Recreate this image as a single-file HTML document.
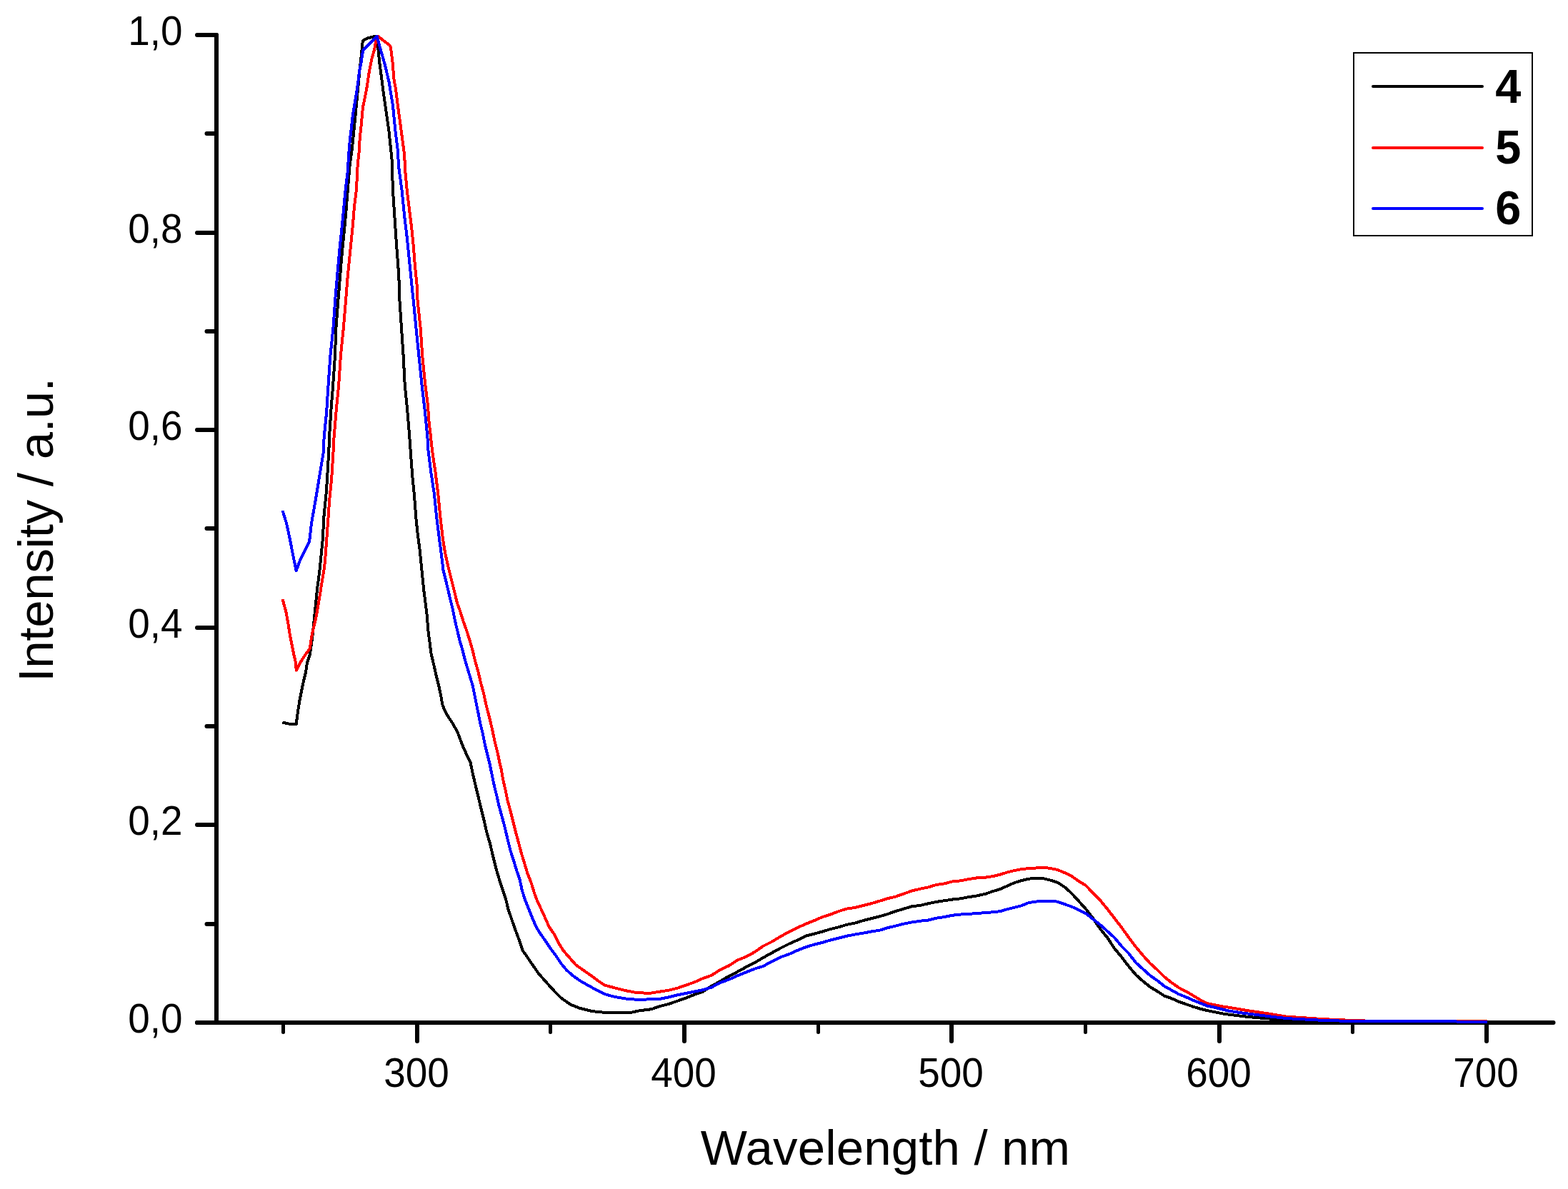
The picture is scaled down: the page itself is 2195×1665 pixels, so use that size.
<!DOCTYPE html>
<html><head><meta charset="utf-8"><title>Intensity vs Wavelength</title>
<style>
html,body{margin:0;padding:0;background:#fff;}
body{width:2195px;height:1665px;overflow:hidden;}
svg{display:block;}
.tk{font-family:"Liberation Sans",Arial,sans-serif;font-size:57.8px;fill:#000;}
.tt{font-family:"Liberation Sans",Arial,sans-serif;font-size:69px;fill:#000;}
.lg{font-family:"Liberation Sans",Arial,sans-serif;font-size:66.5px;font-weight:bold;fill:#000;}
</style></head>
<body>
<svg width="2195" height="1665" viewBox="0 0 2195 1665">
<rect width="2195" height="1665" fill="#fff"/>
<g stroke="#000" stroke-linecap="round" fill="none"><line x1="303" y1="49" x2="303" y2="1432" stroke-width="6"/><line x1="276" y1="1432" x2="2174.5" y2="1432" stroke-width="6"/><line x1="276" y1="1432.0" x2="303" y2="1432.0" stroke-width="6"/><line x1="276" y1="1155.0" x2="303" y2="1155.0" stroke-width="6"/><line x1="276" y1="879.0" x2="303" y2="879.0" stroke-width="6"/><line x1="276" y1="602.0" x2="303" y2="602.0" stroke-width="6"/><line x1="276" y1="326.0" x2="303" y2="326.0" stroke-width="6"/><line x1="276" y1="49.0" x2="303" y2="49.0" stroke-width="6"/><line x1="289.5" y1="1294.0" x2="303" y2="1294.0" stroke-width="6"/><line x1="289.5" y1="1017.0" x2="303" y2="1017.0" stroke-width="6"/><line x1="289.5" y1="740.0" x2="303" y2="740.0" stroke-width="6"/><line x1="289.5" y1="464.0" x2="303" y2="464.0" stroke-width="6"/><line x1="289.5" y1="187.0" x2="303" y2="187.0" stroke-width="6"/><line x1="584.0" y1="1432" x2="584.0" y2="1458" stroke-width="6"/><line x1="958.0" y1="1432" x2="958.0" y2="1458" stroke-width="6"/><line x1="1332.0" y1="1432" x2="1332.0" y2="1458" stroke-width="6"/><line x1="1707.0" y1="1432" x2="1707.0" y2="1458" stroke-width="6"/><line x1="2081.0" y1="1432" x2="2081.0" y2="1458" stroke-width="6"/><line x1="396.5" y1="1432" x2="396.5" y2="1445.5" stroke-width="5"/><line x1="770.5" y1="1432" x2="770.5" y2="1445.5" stroke-width="5"/><line x1="1145.5" y1="1432" x2="1145.5" y2="1445.5" stroke-width="5"/><line x1="1519.5" y1="1432" x2="1519.5" y2="1445.5" stroke-width="5"/><line x1="1893.5" y1="1432" x2="1893.5" y2="1445.5" stroke-width="5"/></g>
<text transform="translate(255.5,1446.0) scale(0.95,1)" class="tk" text-anchor="end">0,0</text>
<text transform="translate(255.5,1169.0) scale(0.95,1)" class="tk" text-anchor="end">0,2</text>
<text transform="translate(255.5,893.0) scale(0.95,1)" class="tk" text-anchor="end">0,4</text>
<text transform="translate(255.5,616.0) scale(0.95,1)" class="tk" text-anchor="end">0,6</text>
<text transform="translate(255.5,340.0) scale(0.95,1)" class="tk" text-anchor="end">0,8</text>
<text transform="translate(255.5,63.0) scale(0.95,1)" class="tk" text-anchor="end">1,0</text>
<text transform="translate(583.0,1521.5) scale(0.95,1)" class="tk" text-anchor="middle">300</text>
<text transform="translate(957.0,1521.5) scale(0.95,1)" class="tk" text-anchor="middle">400</text>
<text transform="translate(1331.0,1521.5) scale(0.95,1)" class="tk" text-anchor="middle">500</text>
<text transform="translate(1706.0,1521.5) scale(0.95,1)" class="tk" text-anchor="middle">600</text>
<text transform="translate(2080.0,1521.5) scale(0.95,1)" class="tk" text-anchor="middle">700</text>
<polyline points="395.4,1011.6 404.0,1013.5 414.6,1014.5 416.5,1000.0 419.4,980.9 422.3,966.5 424.7,954.9 428.0,941.5 430.0,928.0 433.8,916.5 435.7,904.0 437.6,889.6 441.7,848.6 444.0,825.2 447.1,801.8 449.5,778.3 451.8,754.9 453.4,723.7 456.5,692.5 458.1,669.0 460.4,630.0 461.0,611.6 463.6,572.0 466.2,538.9 468.9,499.3 470.4,459.6 473.4,420.0 475.7,392.0 478.1,362.0 481.0,332.0 483.9,302.0 486.8,266.0 489.8,230.0 492.9,208.0 496.5,172.0 500.0,136.0 503.5,97.7 506.0,76.0 507.8,57.0 514.5,53.5 524.0,51.2 527.7,51.0 528.9,64.0 531.3,88.0 533.7,106.0 536.0,124.0 539.7,150.5 542.0,166.0 544.5,184.0 547.0,208.0 548.7,225.0 549.9,266.0 552.3,302.0 554.7,338.0 556.5,362.0 558.3,386.0 559.4,420.0 562.0,459.6 564.7,499.3 566.7,538.9 570.0,572.0 573.3,611.6 575.3,640.0 577.5,669.0 579.9,692.5 582.2,723.7 584.6,747.1 587.7,770.5 590.0,794.0 593.1,825.2 595.0,840.0 598.0,864.0 599.2,882.0 601.6,900.0 603.4,914.5 607.0,930.0 610.6,945.7 614.2,960.1 617.2,974.5 619.6,987.7 623.2,996.2 628.0,1004.6 632.9,1011.8 637.7,1020.2 641.3,1027.4 647.2,1043.2 653.1,1056.4 658.4,1067.0 661.7,1082.9 665.7,1100.0 669.6,1115.9 673.6,1133.1 677.6,1148.9 681.5,1166.1 686.2,1182.0 690.1,1199.1 694.1,1215.0 698.7,1230.8 702.6,1242.6 707.7,1257.8 711.4,1272.9 716.5,1288.0 720.9,1300.6 726.6,1315.8 731.6,1330.9 737.9,1339.8 745.5,1351.1 754.3,1363.7 764.4,1375.1 775.8,1387.7 785.9,1397.8 798.5,1406.6 811.1,1411.7 828.8,1416.1 847.7,1418.0 866.6,1418.0 883.0,1418.0 894.4,1415.4 912.0,1413.2 924.0,1409.0 936.0,1406.0 948.1,1401.8 960.1,1397.6 972.1,1392.8 984.1,1388.6 996.1,1380.8 1008.1,1374.2 1020.1,1367.0 1032.1,1361.0 1044.2,1354.3 1056.2,1348.3 1068.2,1341.1 1080.2,1334.5 1092.2,1327.9 1104.2,1321.9 1116.2,1316.5 1128.3,1310.5 1140.3,1307.5 1151.4,1304.5 1162.8,1301.0 1174.2,1298.2 1185.6,1294.8 1197.0,1292.5 1208.3,1289.1 1219.7,1286.2 1231.1,1283.4 1242.5,1280.0 1253.9,1276.0 1265.3,1272.6 1276.7,1269.2 1288.1,1268.0 1299.5,1265.2 1310.8,1262.9 1322.2,1261.2 1333.6,1259.5 1345.0,1258.3 1356.4,1256.1 1367.8,1254.4 1380.0,1251.6 1390.0,1248.1 1400.0,1245.1 1410.1,1240.6 1420.1,1236.1 1430.1,1233.1 1440.1,1230.6 1450.2,1230.1 1460.2,1230.1 1470.2,1232.6 1480.2,1235.6 1490.3,1242.1 1500.3,1251.1 1510.3,1262.1 1520.3,1273.2 1530.3,1286.2 1540.4,1301.2 1550.4,1313.3 1560.0,1328.0 1570.0,1340.0 1580.0,1353.1 1590.1,1365.1 1600.1,1374.1 1610.1,1382.1 1620.1,1388.2 1630.2,1394.7 1640.2,1398.2 1650.2,1402.7 1660.2,1406.2 1670.3,1409.7 1680.3,1412.7 1690.3,1415.2 1700.3,1417.2 1710.3,1419.2 1720.4,1420.7 1740.4,1423.2 1760.5,1425.2 1780.0,1426.7 1800.0,1428.0 1850.0,1430.0 1900.0,1430.5 2082.0,1430.5" fill="none" stroke="#000" stroke-width="4.0" stroke-linejoin="round" stroke-linecap="butt" shape-rendering="crispEdges"/>
<polyline points="395.6,839.2 400.3,856.4 403.4,873.6 405.9,889.6 408.8,904.0 411.7,918.4 413.6,926.1 414.8,938.6 420.3,928.0 425.1,920.3 433.8,907.9 435.7,894.4 438.1,882.9 442.5,864.2 447.1,837.7 450.3,817.4 453.4,798.6 455.0,786.2 457.3,754.9 459.6,723.7 461.2,700.3 464.3,669.0 466.7,630.0 467.6,611.6 470.9,572.0 474.2,538.9 476.8,499.3 480.8,459.6 484.1,420.0 486.8,386.0 489.2,362.0 491.6,338.0 494.0,314.0 495.9,290.0 498.9,266.0 500.7,230.0 502.5,214.0 503.7,193.8 506.0,172.0 507.9,150.5 510.9,136.0 513.3,124.0 516.9,100.0 520.5,82.0 524.0,70.0 526.5,56.0 529.2,51.0 545.4,63.2 547.0,67.0 549.5,86.8 551.6,112.0 553.9,124.0 557.4,151.7 561.8,184.0 566.1,216.6 567.3,240.0 569.7,266.0 573.3,296.0 576.3,320.0 578.7,344.0 581.1,374.0 583.5,398.0 584.5,420.0 588.7,460.0 591.3,499.0 595.3,539.0 598.8,566.0 600.5,590.0 603.0,611.6 604.9,630.0 609.5,661.2 613.4,692.5 616.3,723.7 620.0,754.9 623.0,773.7 627.5,794.0 633.4,817.4 640.3,845.5 643.7,854.4 648.5,870.0 653.3,883.2 657.5,896.5 661.7,910.9 665.3,926.5 669.5,940.9 673.1,956.5 677.3,972.1 680.9,988.9 685.7,1007.0 689.3,1022.6 693.0,1040.0 696.5,1053.7 699.4,1068.0 701.6,1077.0 704.0,1090.8 707.3,1105.3 710.6,1121.2 714.6,1135.7 718.5,1151.6 722.5,1167.4 726.5,1182.0 730.4,1196.5 734.4,1209.7 738.4,1222.9 743.6,1236.1 748.7,1252.7 753.1,1264.1 758.1,1274.2 763.2,1285.5 768.8,1298.1 775.8,1308.2 782.1,1320.8 788.4,1330.9 797.2,1341.0 806.1,1351.1 814.9,1357.4 827.5,1366.2 837.6,1373.8 846.4,1379.5 860.3,1383.3 875.4,1387.1 891.8,1390.2 910.0,1390.8 924.0,1388.6 936.0,1386.8 948.1,1383.8 960.1,1379.6 972.1,1375.4 984.1,1370.0 996.1,1365.8 1008.1,1358.0 1020.1,1352.5 1032.1,1344.7 1044.2,1339.9 1056.2,1333.3 1068.2,1324.9 1080.2,1318.9 1092.2,1311.7 1104.2,1305.1 1116.2,1299.1 1128.3,1293.7 1140.3,1288.9 1151.4,1284.0 1162.8,1280.5 1174.2,1276.0 1185.6,1272.6 1197.0,1270.9 1208.3,1268.0 1219.7,1265.2 1231.1,1261.8 1242.5,1258.3 1253.9,1255.5 1265.3,1251.5 1276.7,1247.5 1288.1,1244.7 1299.5,1242.4 1310.8,1239.0 1322.2,1237.3 1333.6,1234.4 1345.0,1233.3 1356.4,1231.0 1367.8,1229.3 1380.0,1228.6 1390.0,1227.1 1400.0,1224.6 1410.1,1221.5 1420.1,1219.0 1428.1,1217.5 1440.1,1216.0 1450.2,1215.5 1460.2,1214.5 1470.2,1216.0 1480.2,1218.0 1490.3,1222.1 1500.3,1227.1 1510.3,1234.1 1520.3,1240.1 1530.3,1251.1 1540.4,1261.1 1550.4,1273.2 1560.4,1286.2 1570.4,1299.2 1580.5,1313.3 1590.1,1326.0 1600.1,1338.0 1610.1,1349.1 1620.1,1358.1 1630.2,1368.1 1640.2,1376.1 1650.2,1383.1 1660.2,1388.2 1670.3,1394.2 1680.3,1400.2 1690.3,1405.2 1700.3,1407.2 1710.3,1409.2 1720.4,1410.7 1740.4,1414.2 1760.5,1417.2 1780.0,1420.2 1800.0,1423.5 1850.0,1427.0 1900.0,1429.3 1950.0,1430.2 2082.0,1430.4" fill="none" stroke="#f00" stroke-width="4.0" stroke-linejoin="round" stroke-linecap="butt" shape-rendering="crispEdges"/>
<polyline points="395.6,715.1 401.1,733.0 405.8,754.9 410.4,778.3 414.7,799.4 420.6,783.0 426.8,770.5 433.1,758.0 436.2,731.5 439.3,714.3 442.5,695.6 445.6,676.8 448.7,658.1 452.6,634.7 453.7,611.6 457.0,578.6 459.6,538.9 462.3,499.3 466.4,459.6 469.2,420.0 472.6,380.0 475.3,350.0 477.2,332.0 480.2,302.0 483.6,266.0 486.8,240.0 488.0,217.8 489.8,196.2 491.6,181.7 494.0,160.0 496.5,145.7 498.9,131.3 501.3,114.5 503.0,100.0 505.5,88.0 508.0,71.2 509.2,69.4 527.7,51.0 531.3,64.0 536.0,80.8 539.7,94.0 544.5,114.5 545.7,121.7 548.0,136.0 550.0,148.0 551.7,166.0 553.5,184.0 556.5,208.0 558.3,235.0 562.5,266.0 566.1,302.0 569.7,332.0 572.1,356.0 574.5,380.0 577.5,410.0 578.6,420.0 582.5,459.6 586.5,499.3 590.5,538.9 594.4,572.0 598.4,611.6 599.4,630.0 603.3,661.2 608.0,692.5 611.1,723.7 615.0,754.9 618.1,778.3 620.5,798.6 625.2,817.4 630.5,840.0 633.5,852.0 637.1,870.0 640.0,882.0 643.7,897.7 647.3,909.7 650.9,924.1 654.5,936.1 658.1,948.1 661.7,960.1 664.1,972.1 666.5,984.1 669.5,998.6 672.5,1014.2 675.5,1026.2 678.9,1043.2 682.2,1056.4 685.5,1069.6 688.8,1085.5 692.1,1101.4 695.4,1114.6 698.7,1129.1 702.7,1143.6 706.6,1158.2 710.6,1175.3 714.6,1191.2 719.2,1205.7 723.2,1219.0 727.8,1232.2 730.4,1245.1 734.2,1257.8 739.2,1270.4 744.2,1283.0 750.6,1298.1 756.9,1308.2 763.2,1317.0 770.7,1328.4 778.3,1338.5 785.9,1349.8 793.4,1358.7 803.5,1367.5 813.6,1374.4 823.7,1380.1 835.1,1386.4 846.4,1392.1 860.3,1395.9 879.2,1399.0 891.8,1399.7 912.0,1399.4 924.0,1398.8 936.0,1396.4 948.1,1393.4 960.1,1391.0 972.1,1388.6 984.1,1386.2 996.1,1382.6 1008.1,1376.0 1020.1,1371.8 1032.1,1366.4 1044.2,1361.5 1056.2,1356.7 1068.2,1353.1 1080.2,1346.5 1092.2,1340.5 1104.2,1336.3 1116.2,1330.9 1128.3,1326.1 1140.3,1322.5 1151.4,1319.8 1162.8,1316.4 1174.2,1313.6 1185.6,1310.7 1197.0,1308.5 1208.3,1306.7 1219.7,1304.5 1231.1,1302.8 1242.5,1299.3 1253.9,1296.5 1265.3,1293.6 1276.7,1291.4 1288.1,1289.7 1299.5,1288.5 1310.8,1285.7 1322.2,1284.0 1333.6,1281.7 1345.0,1280.5 1356.4,1280.0 1367.8,1278.8 1380.0,1278.2 1390.0,1277.2 1400.0,1276.2 1410.1,1273.2 1420.1,1270.7 1430.1,1268.2 1440.1,1264.1 1450.2,1262.6 1460.2,1261.6 1470.2,1261.6 1480.2,1262.6 1490.3,1266.2 1500.3,1269.7 1510.3,1274.2 1520.3,1279.2 1530.3,1287.2 1540.4,1295.2 1550.4,1304.2 1560.4,1313.3 1570.0,1325.0 1580.0,1335.0 1590.1,1348.1 1600.1,1357.1 1610.1,1366.1 1620.1,1373.1 1630.2,1381.1 1640.2,1386.7 1650.2,1392.2 1660.2,1396.2 1670.3,1400.7 1680.3,1404.7 1690.3,1408.7 1700.3,1410.7 1710.3,1413.2 1720.4,1415.7 1740.4,1418.7 1760.5,1421.2 1780.0,1423.7 1800.0,1426.0 1850.0,1428.8 1900.0,1430.2 2082.0,1430.6" fill="none" stroke="#00f" stroke-width="4.0" stroke-linejoin="round" stroke-linecap="butt" shape-rendering="crispEdges"/>
<text x="1239.5" y="1631" class="tt" text-anchor="middle" style="letter-spacing:0.15px">Wavelength / nm</text>
<text transform="translate(74.2,742) rotate(-90)" x="0" y="0" class="tt" text-anchor="middle" style="font-size:69px;letter-spacing:-0.25px">Intensity / a.u.</text>
<rect x="1895" y="74" width="250" height="256" fill="#fff" stroke="#000" stroke-width="2"/>
<line x1="1922" y1="121" x2="2075" y2="121" stroke="#000" stroke-width="4" stroke-linecap="round"/>
<text transform="translate(2111.3,143.6) scale(0.975,1)" class="lg" text-anchor="middle">4</text>
<line x1="1922" y1="207" x2="2075" y2="207" stroke="#f00" stroke-width="4" stroke-linecap="round"/>
<text transform="translate(2111.3,229.3) scale(0.975,1)" class="lg" text-anchor="middle">5</text>
<line x1="1922" y1="292" x2="2075" y2="292" stroke="#00f" stroke-width="4" stroke-linecap="round"/>
<text transform="translate(2111.3,314.3) scale(0.975,1)" class="lg" text-anchor="middle">6</text>
</svg>
</body></html>
